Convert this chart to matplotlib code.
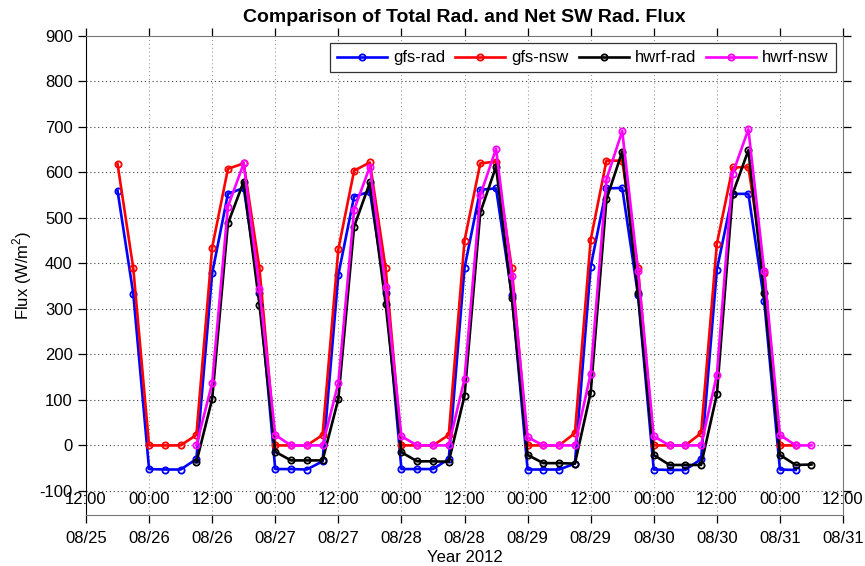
import matplotlib

matplotlib.use("Agg")
import matplotlib.pyplot as plt  # noqa: E402
import pandas as pd  # noqa: E402

plt.rcParams["font.family"] = ["Liberation Sans", "DejaVu Sans"]
plt.rcParams["axes.unicode_minus"] = False
plt.rcParams["mathtext.fontset"] = "custom"
plt.rcParams["mathtext.rm"] = "Liberation Sans"

# 3-hourly values, W/m^2
gfs_rad = [560, 333,
           -52, -53, -53, -30, 378, 553, 566, 335,
           -52, -52, -53, -35, 375, 547, 558, 335,
           -52, -52, -52, -30, 390, 562, 565, 331,
           -53, -53, -53, -40, 393, 565, 566, 331,
           -53, -54, -54, -30, 386, 553, 553, 318,
           -53, -54]
gfs_nsw = [619, 389,
           0, 0, 0, 23, 435, 608, 620, 389,
           0, 0, 0, 23, 431, 604, 622, 389,
           0, 0, 0, 23, 450, 620, 624, 389,
           0, 0, 0, 27, 452, 626, 626, 389,
           0, 0, 0, 27, 443, 611, 612, 380,
           0, 0]
hwrf_rad = [-37, 102, 488, 580, 309,
            -14, -33, -33, -33, 102, 481, 578, 311,
            -15, -35, -35, -36, 109, 512, 613, 325,
            -21, -39, -39, -40, 116, 541, 646, 334,
            -21, -43, -43, -43, 112, 553, 649, 336,
            -21, -43, -42]
hwrf_nsw = [0, 137, 525, 620, 343,
            23, 0, 0, 0, 137, 518, 613, 349,
            20, 0, 0, 0, 146, 550, 652, 372,
            18, 0, 0, 0, 158, 585, 691, 384,
            20, 0, 0, 0, 155, 597, 695, 384,
            23, 0, 0]

gfs_times = pd.date_range("2012-08-25 18:00", periods=len(gfs_rad), freq="3h")
hwrf_times = pd.date_range("2012-08-26 09:00", periods=len(hwrf_rad), freq="3h")
tick_times = pd.date_range("2012-08-25 12:00", "2012-08-31 12:00", freq="12h")
date_labels = [t.strftime("%m/%d") for t in tick_times]
hour_labels = [t.strftime("%H:%M") for t in tick_times]
y_ticks = list(range(-100, 1000, 100))

fig = plt.figure(figsize=(8.65, 5.66), dpi=100)
ax = fig.add_axes([0.0994, 0.0901, 0.8752, 0.8463])

style = dict(marker="o", markersize=4.5, markerfacecolor="none",
             markeredgewidth=1.3, linewidth=1.9)
ax.plot(gfs_times, gfs_rad, color="#0000ff", label="gfs-rad", **style)
ax.plot(gfs_times, gfs_nsw, color="#ff0000", label="gfs-nsw", **style)
ax.plot(hwrf_times, hwrf_rad, color="#000000", label="hwrf-rad", **style)
ax.plot(hwrf_times, hwrf_nsw, color="#ff00ff", label="hwrf-nsw", **style)

ax.set_xlim(tick_times[0], tick_times[-1])
ax.set_ylim(-153, 900)
ax.set_yticks(y_ticks)
ax.set_xticks(tick_times)
ax.set_xticklabels(date_labels)

# hour labels sit inside the axes, just under the -100 line
for t, lbl in zip(tick_times, hour_labels):
    ax.text(t, -118, lbl, ha="center", va="center", fontsize=12, clip_on=False)

for y in y_ticks[:-1]:
    ax.axhline(y, color="#444444", linestyle=(0, (1, 2.5)), linewidth=0.8, zorder=0)
for t in tick_times[1:-1]:
    ax.axvline(t, color="#999999", linestyle=(0, (1, 2.5)), linewidth=0.8, zorder=0)

ax.tick_params(direction="out", length=5.5, width=0.9, labelsize=12,
               top=True, right=True, pad=4)
ax.tick_params(axis="x", pad=6)
for side in ("top", "right", "bottom"):
    ax.spines[side].set_color("#777777")
ax.spines["left"].set_color("#000000")

ax.set_title("Comparison of Total Rad. and Net SW Rad. Flux",
             fontsize=14, fontweight="bold", pad=10)
ax.set_ylabel("Flux (W/m$^2$)", fontsize=12, labelpad=4)
ax.set_xlabel("Year 2012", fontsize=12, labelpad=3)

leg = ax.legend(loc="upper right", ncol=4, fontsize=12, handlelength=3.0,
                handletextpad=0.36, columnspacing=0.6, fancybox=False,
                framealpha=1, edgecolor="#333333", borderpad=0.42,
                borderaxespad=0.45)
leg.get_frame().set_linewidth(0.9)

fig.savefig("out.png", dpi=100)
plt.close(fig)
